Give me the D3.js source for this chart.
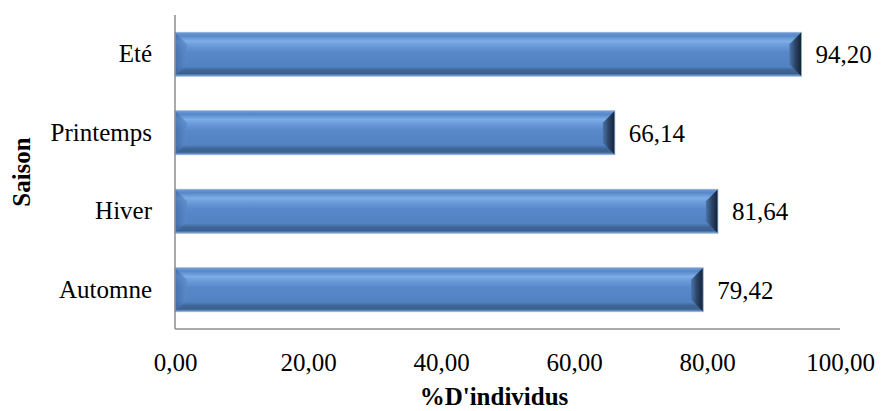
<!DOCTYPE html>
<html>
<head>
<meta charset="utf-8">
<script src="https://cdn.jsdelivr.net/npm/d3@7"></script>
<style>
  html, body { margin: 0; padding: 0; background: #fff; }
  svg { display: block; font-family: "Liberation Serif", "Times New Roman", serif; }
</style>
</head>
<body>
<svg id="chart" width="881" height="411"></svg>
<script>
// Seasons, top to bottom, and the share of individuals for each
const categories = ["Eté", "Printemps", "Hiver", "Automne"];
const values = [94.20, 66.14, 81.64, 79.42];
const xTicks = [0, 20, 40, 60, 80, 100];
const xTitle = "%D'individus";
const yTitle = "Saison";

const svg = d3.select("#chart");
const margin = { left: 175, right: 41, top: 15, bottom: 82 };
const W = 881, H = 411;
const FS = 25;

const x = d3.scaleLinear().domain([0, 100]).range([margin.left, W - margin.right]);
const y = d3.scaleBand().domain(categories).range([margin.top, H - margin.bottom]).paddingInner(0.44).paddingOuter(0.22);

const fmt = v => d3.format(".2f")(v).replace(".", ",");

// Gradients for the bevelled bars
const defs = svg.append("defs");
const body = defs.append("linearGradient").attr("id", "barBody").attr("x1", 0).attr("y1", 0).attr("x2", 0).attr("y2", 1);
[[0, "#6f9bd6"], [0.08, "#5687c8"], [0.2, "#7eaee8"], [0.3, "#6a9ad8"], [0.45, "#5888c9"], [0.78, "#5282c2"], [0.86, "#3e6698"], [0.94, "#39608f"], [1, "#7fa6d8"]]
  .forEach(([o, c]) => body.append("stop").attr("offset", o).attr("stop-color", c));
const leftB = defs.append("linearGradient").attr("id", "bevelL").attr("x1", 0).attr("y1", 0).attr("x2", 1).attr("y2", 0);
[[0, "#3f6aa4"], [1, "#5a8acb"]].forEach(([o, c]) => leftB.append("stop").attr("offset", o).attr("stop-color", c));
const rightB = defs.append("linearGradient").attr("id", "bevelR").attr("x1", 0).attr("y1", 0).attr("x2", 1).attr("y2", 0);
[[0, "#4a74a8"], [0.5, "#2b4466"], [1, "#142033"]].forEach(([o, c]) => rightB.append("stop").attr("offset", o).attr("stop-color", c));

// Bars
const bev = 12;
const g = svg.append("g");
categories.forEach((c, i) => {
  const x0 = x(0), x1 = x(values[i]);
  const y0 = y(c), y1 = y(c) + y.bandwidth();
  const b = Math.min(bev, (x1 - x0) / 2);
  g.append("rect").attr("x", x0).attr("y", y0).attr("width", x1 - x0).attr("height", y1 - y0).attr("fill", "url(#barBody)");
  g.append("polygon").attr("points", [[x0, y0], [x0 + b, y0 + b], [x0 + b, y1 - b], [x0, y1]].join(" ")).attr("fill", "url(#bevelL)").attr("opacity", 0.7);
  g.append("polygon").attr("points", [[x1 - b, y0 + b], [x1, y0], [x1, y1], [x1 - b, y1 - b]].join(" ")).attr("fill", "url(#bevelR)");
  g.append("rect").attr("x", x0).attr("y", y0).attr("width", x1 - x0).attr("height", y1 - y0).attr("fill", "none").attr("stroke", "#8fb0dc").attr("stroke-width", 0.8);
  g.append("text").attr("x", x1 + 14).attr("y", y0 + y.bandwidth() / 2).attr("dy", "0.35em")
    .attr("font-size", FS).attr("fill", "#000").text(fmt(values[i]));
});

// Axis lines
svg.append("line").attr("x1", x(0)).attr("x2", x(0)).attr("y1", margin.top).attr("y2", H - margin.bottom)
  .attr("stroke", "#8c8c8c").attr("stroke-width", 1.5);
svg.append("line").attr("x1", x(0)).attr("x2", x(100)).attr("y1", H - margin.bottom).attr("y2", H - margin.bottom)
  .attr("stroke", "#8c8c8c").attr("stroke-width", 1.5);

// X tick labels
const xAxis = d3.axisBottom(x).tickValues(xTicks).tickFormat(fmt).tickSize(0).tickPadding(0);
const xa = svg.append("g").attr("transform", `translate(0,${H - margin.bottom + 24})`).call(xAxis);
xa.select(".domain").remove();
xa.selectAll("text").attr("font-size", FS).attr("font-family", "Liberation Serif, serif").attr("fill", "#000");

// Y category labels
const yAxis = d3.axisLeft(y).tickSize(0).tickPadding(23);
const ya = svg.append("g").attr("transform", `translate(${x(0)},0)`).call(yAxis);
ya.select(".domain").remove();
ya.selectAll("text").attr("font-size", FS).attr("font-family", "Liberation Serif, serif").attr("fill", "#000");

// Axis titles
svg.append("text").attr("x", 494).attr("y", 405).attr("text-anchor", "middle")
  .attr("font-size", FS).attr("font-weight", "bold").text(xTitle);
svg.append("text").attr("transform", `translate(30,${(margin.top + H - margin.bottom) / 2}) rotate(-90)`)
  .attr("text-anchor", "middle").attr("font-size", FS).attr("font-weight", "bold").text(yTitle);
</script>
</body>
</html>
